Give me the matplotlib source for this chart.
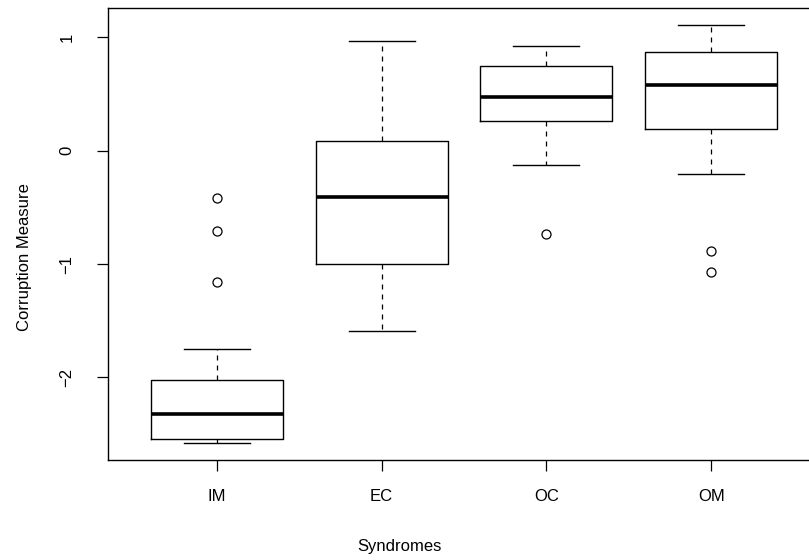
import matplotlib
matplotlib.use("Agg")
import matplotlib.pyplot as plt

# values
groups = ["IM", "EC", "OC", "OM"]
whis_lo = [-2.58, -1.59, -0.126, -0.206]
q1 = [-2.542, -0.997, 0.265, 0.194]
medians = [-2.324, -0.411, 0.474, 0.577]
q3 = [-2.021, 0.086, 0.748, 0.874]
whis_hi = [-1.750, 0.968, 0.924, 1.112]
outliers = [[-0.42, -0.709, -1.159], [], [-0.735], [-0.888, -1.073]]

plt.rcParams["font.family"] = ["Liberation Sans", "DejaVu Sans"]

W, H = 809, 560
fig = plt.figure(figsize=(W / 100, H / 100), dpi=100)
# plot region runs past the right edge of the picture, as in the reference
left, right, top, bottom = 108, 820, 8, 460
ax = fig.add_axes([left / W, 1 - bottom / H, (right - left) / W, (bottom - top) / H])

stats = []
for i, name in enumerate(groups):
    stats.append({
        "label": name,
        "whislo": whis_lo[i], "q1": q1[i], "med": medians[i],
        "q3": q3[i], "whishi": whis_hi[i], "fliers": outliers[i],
    })

ax.bxp(
    stats, positions=range(1, len(groups) + 1), widths=0.8,
    showfliers=True, patch_artist=False,
    boxprops=dict(color="black", linewidth=1.0),
    medianprops=dict(color="black", linewidth=2.6, solid_capstyle="butt"),
    whiskerprops=dict(color="black", linewidth=0.9, linestyle=(0, (4, 4))),
    capprops=dict(color="black", linewidth=1.0),
    capwidths=0.4,
    flierprops=dict(marker="o", markerfacecolor="none", markeredgecolor="black",
                    markersize=6.5, markeredgewidth=0.9),
)

ax.set_xlim(0.34, 4.66)
ax.set_ylim(-2.73, 1.26)
ax.set_yticks([-2, -1, 0, 1])
ax.set_yticklabels(["\u22122", "\u22121", "0", "1"], rotation=90, va="center")
ax.set_xticks(range(1, len(groups) + 1))
ax.set_xticklabels(groups)

ax.tick_params(axis="both", length=8, width=0.9, colors="black", labelsize=12)
ax.tick_params(axis="x", pad=13)
ax.tick_params(axis="y", pad=16)
for s in ax.spines.values():
    s.set_linewidth(1.0)
    s.set_color("black")

ax.set_xlabel("Syndromes", fontsize=12, va="center")
ax.xaxis.set_label_coords((399 - left) / (right - left), (bottom - 547) / (bottom - top))
ax.set_ylabel("Corruption Measure", fontsize=12, va="center")
ax.yaxis.set_label_coords((25 - left) / (right - left), (bottom - 257) / (bottom - top))

fig.savefig("out.png", dpi=100)
